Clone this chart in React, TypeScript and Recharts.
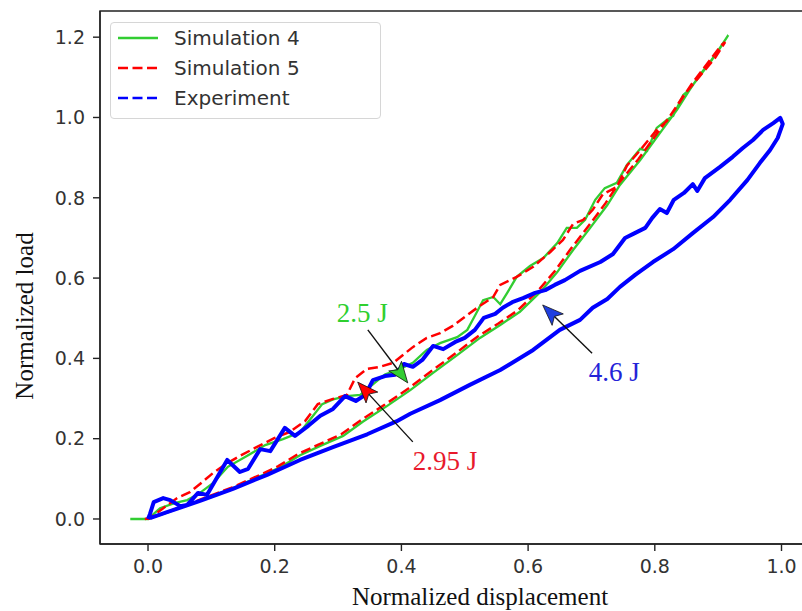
import React from "react";
import { LineChart, Line, XAxis, YAxis, ReferenceLine, ReferenceDot, ReferenceArea, Label } from "recharts";

// ---- data (normalized displacement, normalized load) ----
const sim4Points: [number, number][] = [
  [-0.028, 0], [0, 0], [0.019, 0.027], [0.043, 0.040], [0.062, 0.047], [0.082, 0.065], [0.103, 0.090],
  [0.126, 0.130], [0.156, 0.157], [0.185, 0.184], [0.213, 0.199], [0.240, 0.216], [0.259, 0.254],
  [0.275, 0.286], [0.292, 0.298], [0.314, 0.306], [0.335, 0.309], [0.355, 0.335], [0.374, 0.360],
  [0.398, 0.374], [0.418, 0.389], [0.440, 0.421], [0.461, 0.438], [0.488, 0.453], [0.504, 0.471],
  [0.516, 0.506], [0.529, 0.545], [0.545, 0.553], [0.556, 0.535], [0.567, 0.563], [0.582, 0.603],
  [0.603, 0.630], [0.624, 0.650], [0.646, 0.687], [0.661, 0.725], [0.677, 0.725], [0.690, 0.745],
  [0.706, 0.795], [0.721, 0.824], [0.740, 0.837], [0.756, 0.882], [0.777, 0.922], [0.788, 0.917],
  [0.803, 0.974], [0.819, 0.994], [0.829, 1.004], [0.845, 1.056], [0.856, 1.071], [0.871, 1.106],
  [0.887, 1.138], [0.903, 1.173], [0.916, 1.205],
  [0.908, 1.186], [0.890, 1.143], [0.860, 1.081], [0.835, 1.019], [0.808, 0.961], [0.777, 0.894],
  [0.745, 0.832], [0.725, 0.782], [0.698, 0.725], [0.671, 0.670], [0.646, 0.615], [0.619, 0.565],
  [0.587, 0.516], [0.556, 0.483], [0.524, 0.451], [0.488, 0.408], [0.450, 0.364], [0.414, 0.321],
  [0.377, 0.281], [0.339, 0.242], [0.308, 0.207], [0.272, 0.182], [0.240, 0.159], [0.208, 0.128],
  [0.182, 0.110], [0.134, 0.077], [0.082, 0.046], [0.030, 0.016], [0, 0],
];

const sim5Points: [number, number][] = [
  [-0.005, 0], [0.003, 0.002], [0.024, 0.027], [0.046, 0.052], [0.066, 0.067], [0.082, 0.087],
  [0.103, 0.115], [0.125, 0.139], [0.145, 0.157], [0.169, 0.177], [0.200, 0.202], [0.224, 0.217],
  [0.248, 0.244], [0.268, 0.286], [0.292, 0.299], [0.314, 0.309], [0.327, 0.351], [0.346, 0.374],
  [0.366, 0.379], [0.387, 0.389], [0.398, 0.403], [0.418, 0.428], [0.440, 0.451], [0.461, 0.463],
  [0.481, 0.481], [0.504, 0.508], [0.524, 0.531], [0.545, 0.553], [0.556, 0.583], [0.582, 0.603],
  [0.608, 0.628], [0.635, 0.665], [0.655, 0.695], [0.671, 0.735], [0.687, 0.745], [0.702, 0.770],
  [0.718, 0.809], [0.740, 0.827], [0.756, 0.880], [0.777, 0.919], [0.803, 0.969], [0.819, 0.991],
  [0.845, 1.054], [0.871, 1.103], [0.895, 1.148], [0.911, 1.188],
  [0.905, 1.180], [0.888, 1.145], [0.858, 1.083], [0.832, 1.021], [0.805, 0.963], [0.774, 0.896],
  [0.743, 0.836], [0.722, 0.786], [0.695, 0.729], [0.668, 0.674], [0.643, 0.619], [0.616, 0.569],
  [0.584, 0.520], [0.553, 0.487], [0.521, 0.455], [0.485, 0.412], [0.447, 0.368], [0.411, 0.325],
  [0.374, 0.285], [0.336, 0.246], [0.305, 0.211], [0.269, 0.185], [0.237, 0.162], [0.205, 0.131],
  [0.180, 0.112], [0.132, 0.078], [0.080, 0.047], [0.030, 0.017], [0, 0],
];

const experimentPoints: [number, number][] = [
  [0, 0], [0.003, 0.012], [0.009, 0.042], [0.024, 0.052], [0.035, 0.047], [0.051, 0.032],
  [0.062, 0.035], [0.079, 0.065], [0.093, 0.060], [0.125, 0.147], [0.145, 0.117], [0.158, 0.125],
  [0.177, 0.174], [0.193, 0.169], [0.216, 0.227], [0.232, 0.207], [0.253, 0.232], [0.272, 0.257],
  [0.292, 0.274], [0.311, 0.306], [0.328, 0.294], [0.343, 0.309], [0.355, 0.346], [0.374, 0.356],
  [0.390, 0.359], [0.404, 0.386], [0.418, 0.379], [0.433, 0.396], [0.450, 0.431], [0.466, 0.423],
  [0.485, 0.441], [0.500, 0.451], [0.516, 0.471], [0.530, 0.501], [0.548, 0.511], [0.560, 0.526],
  [0.575, 0.540], [0.592, 0.550], [0.611, 0.563], [0.627, 0.570], [0.642, 0.583], [0.658, 0.595],
  [0.682, 0.618], [0.714, 0.640], [0.734, 0.660], [0.753, 0.700], [0.766, 0.710], [0.785, 0.725],
  [0.796, 0.750], [0.808, 0.772], [0.819, 0.762], [0.830, 0.795], [0.846, 0.812], [0.860, 0.834],
  [0.867, 0.817], [0.879, 0.849], [0.903, 0.877], [0.923, 0.902], [0.939, 0.924], [0.955, 0.944],
  [0.971, 0.969], [0.987, 0.986], [0.998, 0.999], [1.002, 0.984],
  [0.994, 0.949], [0.982, 0.919], [0.966, 0.887], [0.946, 0.844], [0.919, 0.795], [0.892, 0.752],
  [0.860, 0.712], [0.829, 0.672], [0.797, 0.640], [0.769, 0.608], [0.745, 0.578], [0.725, 0.548],
  [0.702, 0.526], [0.682, 0.496], [0.650, 0.471], [0.608, 0.421], [0.556, 0.371], [0.508, 0.334],
  [0.461, 0.296], [0.414, 0.262], [0.392, 0.243], [0.346, 0.211], [0.292, 0.179], [0.240, 0.147],
  [0.188, 0.110], [0.134, 0.075], [0.082, 0.045], [0.030, 0.017], [0.003, 0.002],
];

const xTicks = [0, 0.2, 0.4, 0.6, 0.8, 1.0];
const yTicks = [0, 0.2, 0.4, 0.6, 0.8, 1.0, 1.2];
const xDomain: [number, number] = [-0.0758, 1.0513];
const yDomain: [number, number] = [-0.0623, 1.2652];

const seriesNames = ["Simulation 4", "Simulation 5", "Experiment"];
const annotationLabels = ["2.5 J", "2.95 J", "4.6 J"];
const annotationText: [number, number][] = [[0.338, 0.513], [0.469, 0.144], [0.736, 0.366]];
const arrowTails: [number, number][] = [[0.347, 0.471], [0.418, 0.192], [0.701, 0.413]];
const arrowTips: [number, number][] = [[0.410, 0.339], [0.331, 0.341], [0.623, 0.533]];

const toRows = (pts: [number, number][]) => pts.map(([x, y]) => ({ x, y }));

const GREEN = "#32cd32";
const RED = "#ff0000";
const BLUE = "#0000ff";
const annotationColors = ["#2fcf2f", "#e8192c", "#2323d8"];
const headColors = [GREEN, RED, "#1f3fe0"];

const Arrow = (props: any) => {
  const { x1, y1, x2, y2, fill } = props;
  const dx = x2 - x1;
  const dy = y2 - y1;
  const len = Math.sqrt(dx * dx + dy * dy) || 1;
  const ux = dx / len;
  const uy = dy / len;
  const px = -uy;
  const py = ux;
  const L = 21;
  const W = 8;
  const bx = x2 - ux * L;
  const by = y2 - uy * L;
  const nx = x2 - ux * L * 0.78;
  const ny = y2 - uy * L * 0.78;
  const pts = [
    `${x2},${y2}`,
    `${bx + px * W},${by + py * W}`,
    `${nx},${ny}`,
    `${bx - px * W},${by - py * W}`,
  ].join(" ");
  return (
    <g>
      <line x1={x1} y1={y1} x2={nx} y2={ny} stroke="#111" strokeWidth={1.4} />
      <polygon points={pts} fill={fill} stroke="#111" strokeWidth={0.8} />
    </g>
  );
};

const tickStyle = { fontFamily: "DejaVu Sans", fontSize: 19, fill: "#333" };

const LegendBox = () => {
  const entries = [
    { name: seriesNames[0], color: GREEN, dash: undefined as string | undefined },
    { name: seriesNames[1], color: RED, dash: "10 4.5" },
    { name: seriesNames[2], color: BLUE, dash: "10 4.5" },
  ];
  return (
    <div
      style={{
        position: "absolute",
        left: 110,
        top: 22,
        width: 271,
        height: 97,
        border: "1px solid #d6d6d6",
        borderRadius: 4,
        background: "rgba(255,255,255,0.85)",
        boxSizing: "border-box",
      }}
    >
      {entries.map((e, i) => (
        <div key={e.name} style={{ position: "absolute", left: 6, top: 0 + i * 30, height: 30, width: 260 }}>
          <svg width={44} height={30} style={{ position: "absolute", left: 0, top: 0 }}>
            <line x1={1} y1={15} x2={41} y2={15} stroke={e.color} strokeWidth={2.5} strokeDasharray={e.dash} />
          </svg>
          <span
            style={{
              position: "absolute",
              left: 57,
              top: 0,
              lineHeight: "30px",
              fontFamily: "DejaVu Sans",
              fontSize: 20,
              color: "#333",
              whiteSpace: "nowrap",
            }}
          >
            {e.name}
          </span>
        </div>
      ))}
    </div>
  );
};

export default function App() {
  return (
    <div style={{ position: "absolute", left: 0, top: 0, width: 802, height: 611, overflow: "hidden", background: "#fff" }}>
      <LineChart width={830} height={611} margin={{ top: 11, right: 16, bottom: 0, left: 0 }}>
        <XAxis
          type="number"
          dataKey="x"
          domain={xDomain}
          ticks={xTicks}
          allowDataOverflow
          tickFormatter={(v: number) => v.toFixed(1)}
          tick={tickStyle}
          tickSize={7}
          tickMargin={9}
          height={67}
          axisLine={{ stroke: "#222", strokeWidth: 1.4 }}
          tickLine={{ stroke: "#222", strokeWidth: 1.4 }}
          label={(p: any) => {
            const vb = p.viewBox || {};
            return (
              <text
                x={(vb.x || 0) + (vb.width || 0) / 2 + 23}
                y={605}
                textAnchor="middle"
                fontFamily="'Liberation Serif', 'Times New Roman', serif"
                fontSize={25}
                fill="#111"
              >
                Normalized displacement
              </text>
            );
          }}
        />
        <YAxis
          type="number"
          dataKey="y"
          domain={yDomain}
          ticks={yTicks}
          allowDataOverflow
          tickFormatter={(v: number) => v.toFixed(1)}
          tick={tickStyle}
          tickSize={7}
          tickMargin={8}
          width={100}
          axisLine={{ stroke: "#222", strokeWidth: 1.4 }}
          tickLine={{ stroke: "#222", strokeWidth: 1.4 }}
          label={(p: any) => (
            <text
              x={24}
              y={316}
              transform="rotate(-90 24 316)"
              textAnchor="middle"
              dominantBaseline="central"
              fontFamily="'Liberation Serif', 'Times New Roman', serif"
              fontSize={25}
              fill="#111"
            >
              Normalized load
            </text>
          )}
        />
        <ReferenceArea
          x1={xDomain[0]}
          x2={xDomain[1]}
          y1={yDomain[0]}
          y2={yDomain[1]}
          fill="none"
          stroke="#222"
          strokeWidth={1.4}
          fillOpacity={0}
        />
        <Line
          data={toRows(sim4Points)}
          dataKey="y"
          name={seriesNames[0]}
          stroke={GREEN}
          strokeWidth={2.3}
          dot={false}
          isAnimationActive={false}
          type="linear"
        />
        <Line
          data={toRows(sim5Points)}
          dataKey="y"
          name={seriesNames[1]}
          stroke={RED}
          strokeWidth={2.5}
          strokeDasharray="10 4.5"
          dot={false}
          isAnimationActive={false}
          type="linear"
        />
        <Line
          data={toRows(experimentPoints)}
          dataKey="y"
          name={seriesNames[2]}
          stroke={BLUE}
          strokeWidth={4}
          strokeLinejoin="round"
          dot={false}
          isAnimationActive={false}
          type="linear"
        />
        {annotationLabels.map((lab, i) => (
          <ReferenceLine
            key={"arrow" + lab}
            segment={[
              { x: arrowTails[i][0], y: arrowTails[i][1] },
              { x: arrowTips[i][0], y: arrowTips[i][1] },
            ]}
            shape={(p: any) => <Arrow {...p} fill={headColors[i]} />}
          />
        ))}
        {annotationLabels.map((lab, i) => (
          <ReferenceDot
            key={"text" + lab}
            x={annotationText[i][0]}
            y={annotationText[i][1]}
            r={0}
            shape={(p: any) => (
              <text
                x={p.cx}
                y={p.cy}
                textAnchor="middle"
                dominantBaseline="central"
                fontFamily="'Liberation Serif', 'Times New Roman', serif"
                fontSize={27}
                fill={annotationColors[i]}
              >
                {lab}
              </text>
            )}
          />
        ))}
      </LineChart>
      <LegendBox />
    </div>
  );
}
